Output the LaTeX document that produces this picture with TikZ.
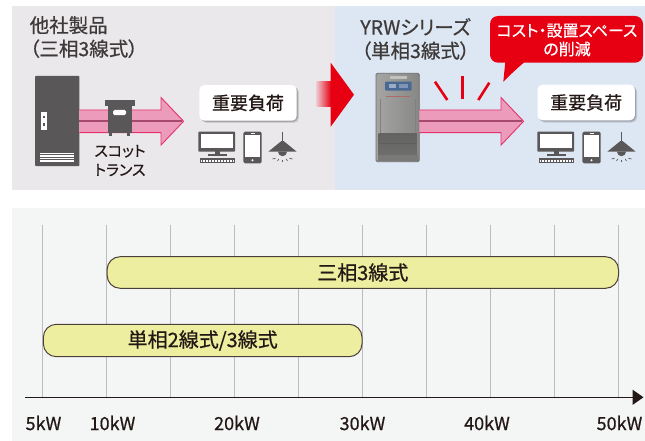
\documentclass[tikz,border=0pt]{standalone}
\usepackage{fontspec}
\setmainfont[RawFeature=+palt, FakeBold=0.6]{Noto Sans CJK JP}
\usetikzlibrary{arrows.meta,shadows}

\definecolor{leftbg}{HTML}{EBE8EC}
\definecolor{rightbg}{HTML}{DDE7F3}
\definecolor{chartbg}{HTML}{F4F6F6}
\definecolor{gridgray}{HTML}{BDBDBD}
\definecolor{inkdark}{HTML}{231815}
\definecolor{titleink}{HTML}{3E3A39}
\definecolor{icongray}{HTML}{595757}
\definecolor{barfill}{HTML}{EDEEA0}
\definecolor{baredge}{HTML}{4B3F3A}
\definecolor{brandred}{HTML}{E60012}
\definecolor{redfade}{HTML}{EFC3CB}
\definecolor{pinkfill}{HTML}{EC9BBB}
\definecolor{pinkedge}{HTML}{E4336C}
\definecolor{pinkcore}{HTML}{A6496E}
\definecolor{unitbody}{HTML}{8E8F8D}
\definecolor{unitedge}{HTML}{6B6C6A}
\definecolor{unitdark}{HTML}{6E6F6D}
\definecolor{unitpanel}{HTML}{4A6894}

\tikzset{
  titletext/.style={inner sep=0pt, text=titleink, font=\fontsize{19.5}{23.5}\selectfont},
  smalltext/.style={inner sep=0pt, text=inkdark, font=\fontsize{15}{19}\selectfont, align=center},
  loadbox/.style={fill=white, rounded corners=5pt, minimum width=97.4pt, minimum height=35.7pt,
    inner sep=0pt, text=inkdark, font=\fontsize{18}{20}\selectfont,
    drop shadow={shadow xshift=2.2pt, shadow yshift=-2.2pt, opacity=0.12, fill=black},
    drop shadow={shadow xshift=1.2pt, shadow yshift=-1.2pt, opacity=0.18, fill=black}},
  barbox/.style={draw=baredge, line width=1pt, fill=barfill, rounded corners=13pt,
    inner sep=0pt, text=inkdark, font=\fontsize{20}{22}\selectfont},
  ticklabel/.style={inner sep=0pt, text=inkdark, font=\fontsize{18}{20}\selectfont},
  gridline/.style={draw=gridgray, line width=1pt},
  axisline/.style={draw=inkdark, line width=1.5pt},
  rayline/.style={draw=brandred, line width=2.6pt},
  callouttext/.style={inner sep=0pt, text=white, font=\fontsize{16}{18.5}\selectfont, align=center},
  % block arrow carrying the power flow
  pinkflow/.pic={
    \fill[pinkfill] (0,-11.3) -- (81.7,-11.3) -- (81.7,-23.8) -- (104.3,0) -- (81.7,23.8)
      -- (81.7,11.4) -- (0,11.4) -- cycle;
    \draw[pinkedge, line width=0.9pt, line join=miter] (0,-11.3) -- (81.7,-11.3) -- (81.7,-23.8)
      -- (104.3,0) -- (81.7,23.8) -- (81.7,11.4) -- (0,11.4);
    \draw[pinkcore, line width=1.6pt] (0,0) -- (103,0);
  },
  % monitor, smartphone and pendant lamp
  loadicons/.pic={
    \fill[icongray, rounded corners=0.8pt] (0,0) rectangle (36.7,20);
    \fill[white] (2.3,2.3) rectangle (34.4,16.7);
    \fill[icongray] (16.7,19) rectangle (21.7,22.8);
    \fill[icongray] (10,22.3) rectangle (28.4,24.3);
    \fill[icongray] (1.7,26.6) rectangle (36.7,31.6);
    \draw[white, line width=0.6pt, dash pattern=on 0.8pt off 0.7pt] (3,28.2) -- (35.4,28.2);
    \draw[white, line width=0.6pt, dash pattern=on 0.8pt off 0.7pt] (3,30) -- (35.4,30);
    \fill[icongray, rounded corners=1.5pt] (45,0) rectangle (63.4,31.6);
    \fill[white] (46.8,3.6) rectangle (61.6,25.6);
    \fill[white] (54.2,28.6) circle (1.1);
    \draw[white, line width=0.6pt] (52.2,1.8) -- (56.2,1.8);
    \draw[icongray, line width=1.4pt] (84.2,0) -- (84.2,10);
    \fill[icongray] (82.9,9.5) -- (85.5,9.5) -- (98.4,20) -- (70,20) -- cycle;
    \fill[icongray] (79.7,20) arc[start angle=180, end angle=0, radius=4.5];
    \draw[icongray, line width=0.7pt] (74.2,27.3) -- (77.2,26.6);
    \draw[icongray, line width=0.7pt] (79.2,29.2) -- (80.4,27.4);
    \draw[icongray, line width=0.7pt] (84.2,30) -- (84.2,27.8);
    \draw[icongray, line width=0.7pt] (89.2,29.2) -- (88,27.4);
    \draw[icongray, line width=0.7pt] (94.2,27.3) -- (91.2,26.6);
  }
}

\begin{document}
\begin{tikzpicture}[x=1pt, y=-1pt]
\useasboundingbox (0,0) rectangle (645,441);
\fill[white] (0,0) rectangle (645,441);

% ---------- upper comparison panels ----------
\fill[leftbg] (12,6) rectangle (335,190);
\fill[rightbg] (335,6) rectangle (645,190);

% existing product: three-phase cabinet with Scott transformer
\node[titletext, anchor=north west, align=left] (oldtitle) at (29.5,16) {他社製品\\（三相3線式）};

\fill[icongray, rounded corners=0.8pt] (35,76) rectangle (79.3,166);
\fill[white] (41,111.7) rectangle (47.3,130);
\fill[icongray] (43.4,116) rectangle (45,118.4);
\fill[icongray] (43.4,123.2) rectangle (45,125.6);
\foreach \k in {0,...,5}
  \draw[white, line width=0.8pt] (40,{153.6+1.6*\k}) -- (74,{153.6+1.6*\k});

\pic at (79.3,121.3) {pinkflow};

\fill[icongray] (105,100) rectangle (135,106);
\fill[icongray] (107.7,105.5) rectangle (131.7,132.7);
\fill[icongray] (109.2,132) rectangle (112.2,136);
\fill[icongray] (127.2,132) rectangle (130.2,136);
\fill[white, rounded corners=1.5pt] (113,110) rectangle (126,115.2);
\node[smalltext] (scott) at (120,160.5) {スコット\\トランス};

\node[loadbox] (loadA) at (248,102.9) {重要負荷};
\pic at (198.3,131.7) {loadicons};

% transition arrow between the panels
\shade[left color=redfade, right color=brandred] (316.7,81.7) rectangle (331.2,106.7);
\fill[brandred] (330.7,62.7) -- (354,94.7) -- (330.7,126.7) -- cycle;

% YRW series single-phase unit
\node[titletext, align=center] (newtitle) at (415.5,39) {YRWシリーズ\\（単相3線式）};

\shade[left color=unitbody!80!white, right color=unitbody!95!black, draw=unitedge, line width=0.8pt,
  rounded corners=1.5pt] (376,73.3) rectangle (419.3,161.7);
\fill[unitbody!55!white] (390,75.8) rectangle (406.7,79.5);
\fill[unitpanel, rounded corners=1pt] (385,81.7) rectangle (411.7,90.7);
\fill[unitpanel!55!white] (389,84) rectangle (396,88.4);
\fill[unitpanel!70!white] (399,84.5) rectangle (408,88);
\draw[red!25!unitbody, line width=0.4pt] (386,96.5) -- (410,96.5);
\draw[unitedge!40!unitbody, line width=0.5pt] (380.5,99) -- (380.5,133);
\draw[unitedge!40!unitbody, line width=0.5pt] (415,99) -- (415,133);
\shade[top color=unitdark!90!black, bottom color=unitdark] (378.6,133.3) rectangle (416.8,155);
\draw[unitdark!85!black, line width=0.4pt] (378.6,143.5) -- (416.8,143.5);
\fill[unitbody!85!black] (378,155) rectangle (417.5,160.5);

\pic at (419.3,121.3) {pinkflow};

% red emphasis strokes and callout
\draw[rayline] (435,81.7) -- (447.3,100);
\draw[rayline] (462.3,76) -- (462.3,99.3);
\draw[rayline] (489.3,82.7) -- (478.3,100);

\fill[brandred, rounded corners=8pt] (490,16) rectangle (643,62.7);
\fill[brandred] (505.5,60) -- (503.3,81.7) .. controls (511,74) and (519,66.5) .. (527,60) -- cycle;
\node[callouttext] (callout) at (567,40) {コスト・設置スペース\\の削減};

\node[loadbox] (loadB) at (586.2,102.5) {重要負荷};
\pic at (537.3,131.7) {loadicons};

% ---------- capacity range chart ----------
\fill[chartbg] (12,208) rectangle (645,441);
\foreach \i in {0,...,9}
  \draw[gridline] ({42.7+64*\i},224.7) -- ({42.7+64*\i},397.3);

\coordinate (axstart) at (25.3,397.3);
\coordinate (axend) at (643.5,397.3);
\draw[axisline, -{Triangle[length=11pt, width=15pt]}] (axstart) -- (axend);

\node[ticklabel] (k5)  at (43.5,423) {5kW};
\node[ticklabel] (k10) at (112.5,423) {10kW};
\node[ticklabel] (k20) at (237,423) {20kW};
\node[ticklabel] (k30) at (362.5,423) {30kW};
\node[ticklabel] (k40) at (487,423) {40kW};
\node[ticklabel] (k50) at (619.5,423) {50kW};

\node[barbox, minimum width=511.4pt, minimum height=31.6pt] (threephase) at (362.8,272.5) {三相3線式};
\node[barbox, minimum width=318.7pt, minimum height=32.4pt] (singlephase) at (202.7,340.5) {単相2線式/3線式};
\end{tikzpicture}
\end{document}
